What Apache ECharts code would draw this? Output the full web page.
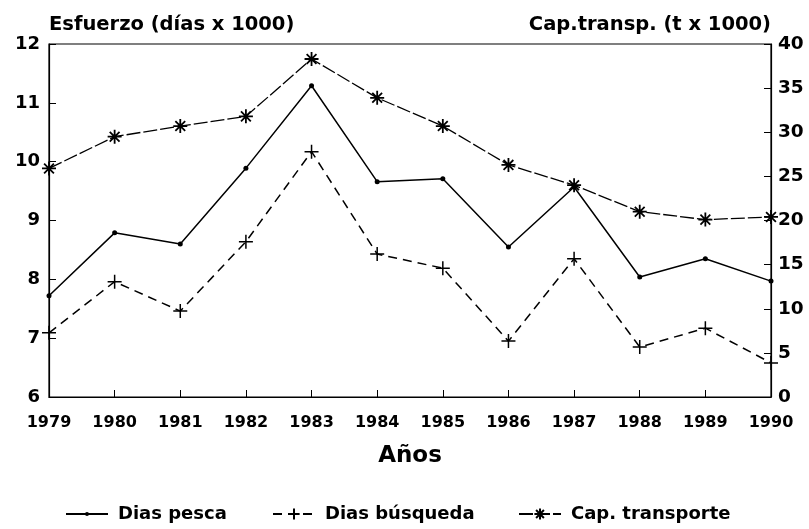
<!DOCTYPE html>
<html><head><meta charset="utf-8">
<script src="https://cdn.jsdelivr.net/npm/echarts@6/dist/echarts.min.js"></script>
<style>html,body{margin:0;padding:0;background:#fff}#c{width:809px;height:529px}</style>
</head><body><div id="c"></div>
<script>
const years = ['1979','1980','1981','1982','1983','1984','1985','1986','1987','1988','1989','1990'];
const diasPesca = [7.72, 8.79, 8.60, 9.89, 11.29, 9.66, 9.71, 8.55, 9.57, 8.04, 8.35, 7.97];
const diasBusqueda = [7.09, 7.96, 7.46, 8.64, 10.17, 8.43, 8.19, 6.95, 8.35, 6.85, 7.17, 6.58];
const capTransporte = [25.9, 29.5, 30.7, 31.8, 38.3, 33.9, 30.7, 26.3, 24.0, 21.0, 20.1, 20.4];
const leftTicks = [6, 7, 8, 9, 10, 11, 12];
const rightTicks = [0, 5, 10, 15, 20, 25, 30, 35, 40];
const seriesNames = ['Dias pesca', 'Dias búsqueda', 'Cap. transporte'];

const FONT = 'DejaVu Sans';
const plusPath = 'path://M0,5L10,5M5,0L5,10';
const starPath = 'path://M5,0L5,10M0,5L10,5M1.5,1.5L8.5,8.5M8.5,1.5L1.5,8.5';

const legendText = {fontFamily: FONT, fontWeight: 'bold', fontSize: 18, color: '#000', padding: [0, 0, 0, 5]};
function mkLegend(name, left, h) {
  return {left: left, top: 500, itemWidth: 42, itemHeight: h, textStyle: legendText, data: [name]};
}

const chart = echarts.init(document.getElementById('c'));
chart.setOption({
  animation: false,
  backgroundColor: '#fff',
  grid: {left: 49, right: 38, top: 44, bottom: 132, show: true, borderColor: '#000', borderWidth: 1.2},
  legend: [
    mkLegend(seriesNames[0], 60, 5),
    mkLegend(seriesNames[1], 267, 14),
    mkLegend(seriesNames[2], 513, 14)
  ],
  xAxis: {
    type: 'category', data: years, boundaryGap: false,
    name: 'Años', nameLocation: 'middle', nameGap: 48,
    nameTextStyle: {fontFamily: FONT, fontWeight: 'bold', fontSize: 23, color: '#000'},
    axisLine: {lineStyle: {color: '#000', width: 1.2}},
    axisTick: {inside: true, length: 7, lineStyle: {color: '#000'}},
    axisLabel: {fontFamily: FONT, fontWeight: 'bold', fontSize: 16, color: '#000', margin: 18}
  },
  yAxis: [{
    type: 'value', min: leftTicks[0], max: leftTicks[leftTicks.length-1], interval: 1,
    name: 'Esfuerzo (días x 1000)', nameLocation: 'end', nameGap: 19,
    nameTextStyle: {fontFamily: FONT, fontWeight: 'bold', fontSize: 19.5, color: '#000', align: 'left', verticalAlign: 'middle'},
    axisLine: {show: true, lineStyle: {color: '#000', width: 1.2}},
    axisTick: {show: true, inside: true, length: 7, lineStyle: {color: '#000'}},
    splitLine: {show: false},
    axisLabel: {fontFamily: FONT, fontWeight: 'bold', fontSize: 18, color: '#000', margin: 9}
  }, {
    type: 'value', min: rightTicks[0], max: rightTicks[rightTicks.length-1], interval: 5, position: 'right',
    name: 'Cap.transp. (t x 1000)', nameLocation: 'end', nameGap: 19,
    nameTextStyle: {fontFamily: FONT, fontWeight: 'bold', fontSize: 19.5, color: '#000', align: 'right', verticalAlign: 'middle'},
    axisLine: {show: true, lineStyle: {color: '#000', width: 1.2}},
    axisTick: {show: true, inside: true, length: 7, lineStyle: {color: '#000'}},
    splitLine: {show: false},
    axisLabel: {fontFamily: FONT, fontWeight: 'bold', fontSize: 18.5, color: '#000', margin: 7}
  }],
  series: [{
    name: seriesNames[0], type: 'line', yAxisIndex: 0, data: diasPesca,
    symbol: 'circle', symbolSize: 5,
    lineStyle: {color: '#000', width: 1.5, type: 'solid'},
    itemStyle: {color: '#000'}
  }, {
    name: seriesNames[1], type: 'line', yAxisIndex: 0, data: diasBusqueda,
    symbol: plusPath, symbolSize: 14,
    lineStyle: {color: '#000', width: 1.5, type: [9, 6]},
    itemStyle: {color: '#000', borderColor: '#000', borderWidth: 1.5}
  }, {
    name: seriesNames[2], type: 'line', yAxisIndex: 1, data: capTransporte,
    symbol: starPath, symbolSize: 14,
    lineStyle: {color: '#000', width: 1.3, type: [14, 3]},
    itemStyle: {color: '#000', borderColor: '#000', borderWidth: 1.8}
  }]
});
</script></body></html>
